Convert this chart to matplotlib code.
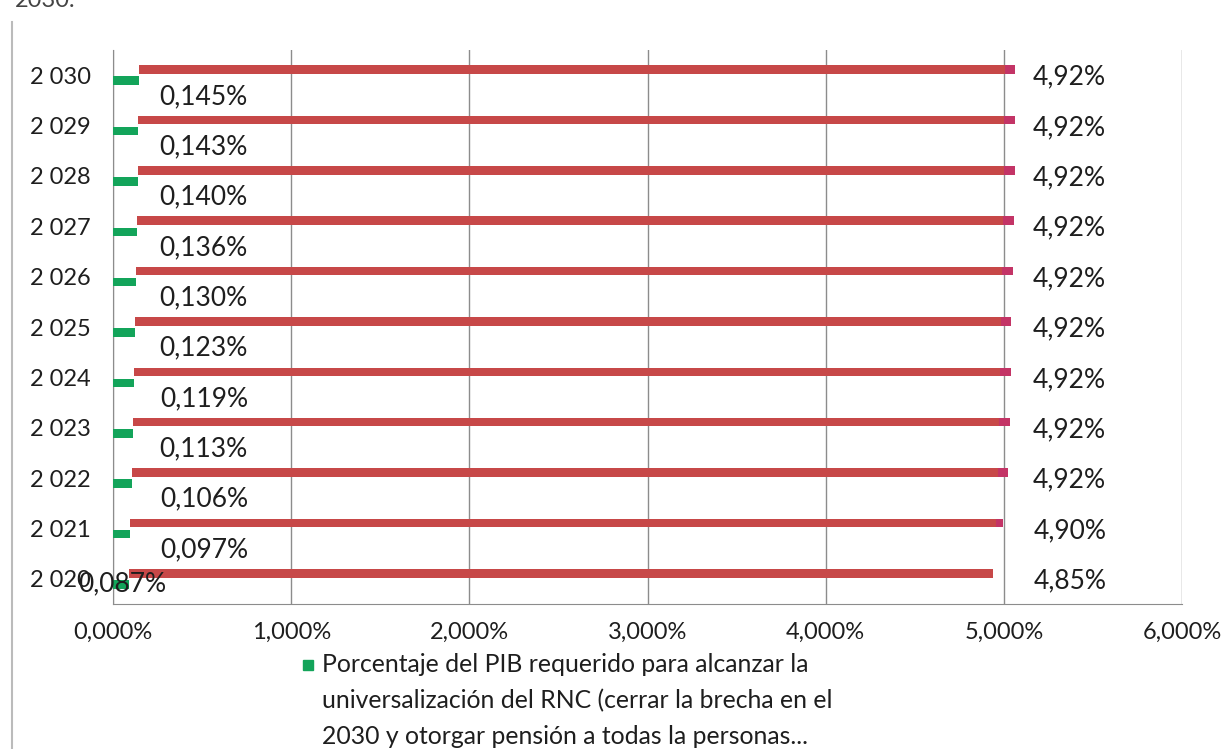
import matplotlib
matplotlib.use("Agg")
import matplotlib.pyplot as plt
from matplotlib.patches import Rectangle
from matplotlib.lines import Line2D
import numpy as np

years = ["2 020", "2 021", "2 022", "2 023", "2 024", "2 025", "2 026", "2 027", "2 028", "2 029", "2 030"]
green_vals = [0.087, 0.097, 0.106, 0.113, 0.119, 0.123, 0.130, 0.136, 0.140, 0.143, 0.145]
green_labels = ["0,087%", "0,097%", "0,106%", "0,113%", "0,119%", "0,123%", "0,130%", "0,136%", "0,140%", "0,143%", "0,145%"]
red_vals = [4.85, 4.90, 4.92, 4.92, 4.92, 4.92, 4.92, 4.92, 4.92, 4.92, 4.92]
red_labels = ["4,85%", "4,90%", "4,92%", "4,92%", "4,92%", "4,92%", "4,92%", "4,92%", "4,92%", "4,92%", "4,92%"]
tip_vals = [0.0, 0.04, 0.06, 0.06, 0.06, 0.06, 0.06, 0.06, 0.06, 0.06, 0.06]
xticks = [0, 1, 2, 3, 4, 5, 6]
xtick_labels = ["0,000%", "1,000%", "2,000%", "3,000%", "4,000%", "5,000%", "6,000%"]
legend_lines = ["Porcentaje del PIB requerido para alcanzar la",
                "universalización del RNC (cerrar la brecha en el",
                "2030 y otorgar pensión a todas la personas..."]

FONT = "Lato"
FS = 17
LFS = 19
GFS = 17.8
plt.rcParams['font.family'] = [FONT, 'DejaVu Sans']

GREEN = "#13A45A"
RED = "#C74848"
TIP = "#C33466"
TXT = "#1E1E1E"

fig = plt.figure(figsize=(12.25, 7.49), dpi=100)
ax = fig.add_axes([113/1225, 1-604/749, (1182-113)/1225, (604-50)/749])

y = np.arange(len(years))
g = np.array(green_vals)
r = np.array(red_vals)
t = np.array(tip_vals)
h = 0.17
off = 0.11
ax.barh(y - off, g, height=h, color=GREEN, zorder=3)
ax.barh(y + off, r - t, left=g, height=h, color=RED, zorder=3)
ax.barh(y + off, t, left=g + r - t, height=h, color=TIP, zorder=3)

for i in range(len(years)):
    if i == 0:
        ax.text(0.05, y[i] - 0.1, green_labels[i], ha='center', va='center', fontsize=LFS, color=TXT, zorder=4)
    else:
        ax.text(0.51, y[i] - 0.42, green_labels[i], ha='center', va='center', fontsize=LFS, color=TXT, zorder=4)
    ax.text(5.37, y[i] - 0.04, red_labels[i], ha='center', va='center', fontsize=LFS, color=TXT, zorder=4)

ax.set_xlim(0, 6)
ax.set_ylim(-0.5, 10.5)
ax.set_xticks(xticks)
ax.set_xticklabels(xtick_labels, fontsize=FS, color=TXT)
ax.set_yticks(y)
ax.set_yticklabels(years, fontsize=FS, color=TXT)
ax.tick_params(axis='both', length=0)
ax.tick_params(axis='x', pad=13)
ax.tick_params(axis='y', pad=16)
ax.grid(axis='x', color='#8C8C8C', linewidth=1, zorder=0)
for s in ['top', 'right']:
    ax.spines[s].set_visible(False)
for s in ['left', 'bottom']:
    ax.spines[s].set_color('#8C8C8C')

# legend
fig.patches.append(Rectangle((303/1225, 1-670/749), 10/1225, 10/749, transform=fig.transFigure, color=GREEN))
for k, line in enumerate(legend_lines):
    fig.text(322/1225, 1-(665+36*k)/749, line, ha='left', va='center', fontsize=GFS, color=TXT)

# left border and cut-off text from the surrounding document
fig.add_artist(Line2D([12/1225, 12/1225], [0, 1-22/749], transform=fig.transFigure, color='#BBBBBB', linewidth=1.5))
fig.text(15/1225, 1-7/749, "2030.", ha='left', va='baseline', fontsize=FS, color='#444444')

fig.savefig("out.png", dpi=100)
